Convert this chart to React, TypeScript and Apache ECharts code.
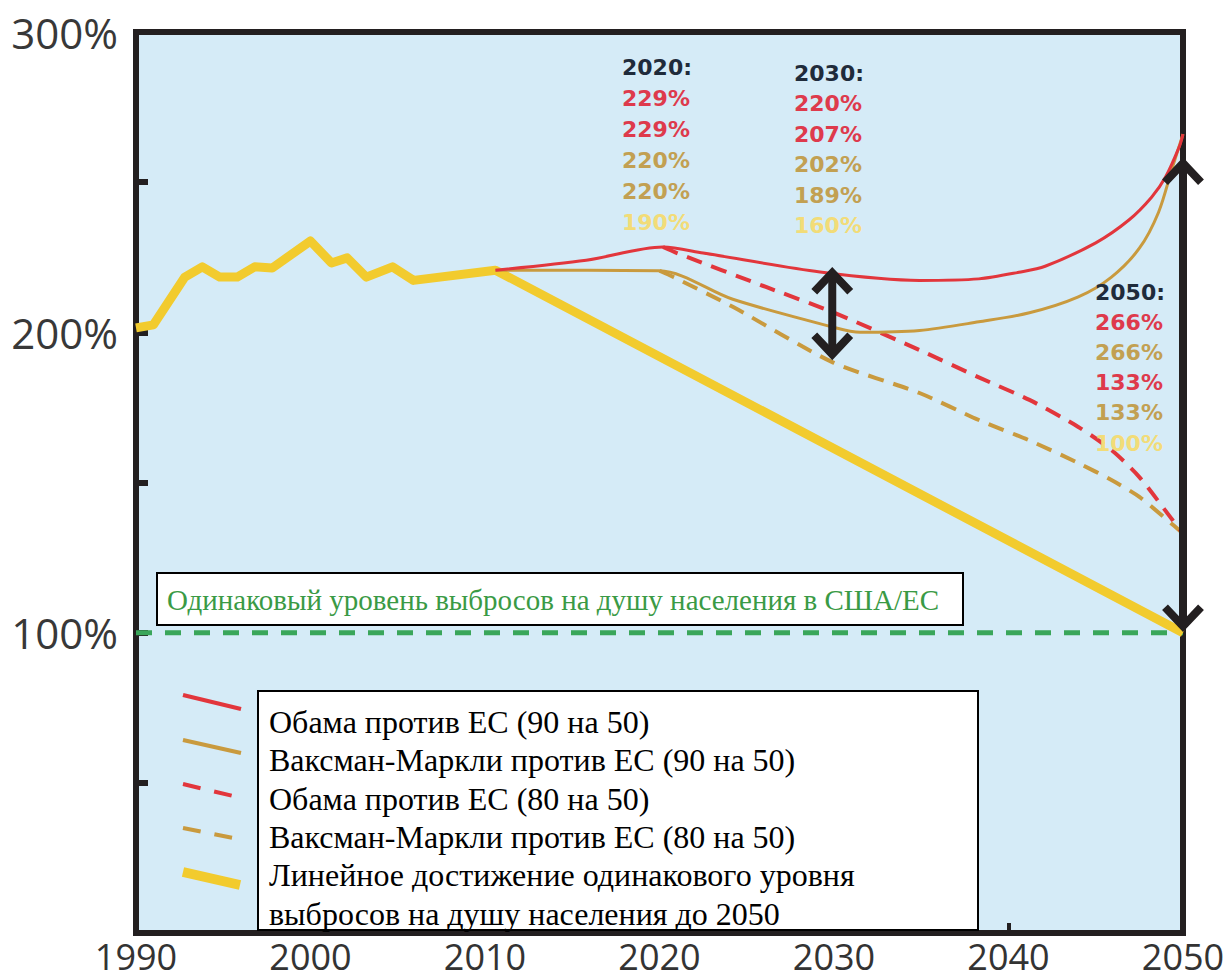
import React, { useEffect, useRef } from "react";
import * as echarts from "echarts";

// ---------- data ----------
const historyYears = [1990, 1991, 1992.8, 1993.8, 1994.8, 1995.8, 1996.8, 1997.8, 2000, 2001.2, 2002.1, 2003.2, 2004.7, 2005.9, 2010.6];
const historyValues = [201.5, 202.5, 218.4, 221.8, 218.4, 218.4, 221.8, 221.4, 230.4, 223.1, 224.8, 218.4, 221.8, 217.3, 220.7];

const linearYears = [2010.6, 2050];
const linearValues = [220.7, 100];

const obama90Years = [2010.6, 2015.8, 2020.2, 2022.5, 2029.2, 2034.9, 2038.3, 2040.6, 2042.1, 2045, 2046.9, 2048.2, 2049, 2049.8, 2050];
const obama90Values = [220.7, 224, 228.4, 226.4, 220.1, 217.3, 217.8, 220, 222, 229.8, 237.4, 245, 251.7, 262, 266];

const waxman90Years = [2010.6, 2020, 2024.2, 2029.9, 2031.5, 2034.9, 2038.3, 2041.2, 2044, 2045.9, 2047.5, 2048.6, 2049.4, 2050];
const waxman90Values = [220.7, 220.5, 211, 201.8, 200, 200.6, 203.5, 206.5, 211.8, 218.4, 228, 240, 255, 266];

const obama80Years = [2020.2, 2021, 2026.1, 2029.9, 2034.9, 2038.3, 2041.2, 2044, 2045.9, 2047.5, 2049.4, 2050];
const obama80Values = [228.4, 226.4, 215.1, 206.8, 194.1, 185, 177.5, 168.5, 160.8, 151.8, 137.5, 133];

const waxman80Years = [2020, 2020.8, 2024.2, 2029.9, 2034.9, 2038.3, 2041.2, 2044, 2045.9, 2047.5, 2049.4, 2050];
const waxman80Values = [220.5, 218.4, 208.5, 190.1, 179.8, 170.8, 164, 156.5, 150.8, 145.2, 136, 133];

const parityYears = [1990, 2050];
const parityValues = [100, 100];

const arrow2030 = { year: 2029.9, from: 220.5, to: 192 };
const arrow2050 = { year: 2050, from: 257, to: 101.5 };

const yLabelValues = [100, 200, 300];

const legendNames = [
  "Обама против ЕС (90 на 50)",
  "Ваксман-Маркли против ЕС (90 на 50)",
  "Обама против ЕС (80 на 50)",
  "Ваксман-Маркли против ЕС (80 на 50)",
  "Линейное достижение одинакового уровня",
  "выбросов на душу населения до 2050",
];
const parityNote = "Одинаковый уровень выбросов на душу населения в США/ЕС";

const block2020 = ["2020:", "229%", "229%", "220%", "220%", "190%"];
const block2030 = ["2030:", "220%", "207%", "202%", "189%", "160%"];
const block2050 = ["2050:", "266%", "266%", "133%", "133%", "100%"];

// ---------- styles ----------
const C_RED = "#e2363c";
const C_GOLD = "#c99a3e";
const C_YELLOW = "#f2cb2e";
const C_GREEN = "#3aa65a";
const C_FRAME = "#231f20";
const T_HEAD = "#1f2b3b";
const T_RED = "#de3a4c";
const T_GOLD = "#c2a052";
const T_YELLOW = "#f2dc78";

const pairs = (xs: number[], ys: number[]) => xs.map((x, i) => [x, ys[i]]);

export default function App() {
  const ref = useRef<HTMLDivElement>(null);

  useEffect(() => {
    document.body.style.margin = "0";
    const chart = echarts.init(ref.current!, null, { renderer: "svg" });

    const line = (name: string, data: number[][], color: string, width: number, dashed?: number[], smooth: number | boolean = false) => ({
      name,
      type: "line",
      data,
      symbol: "none",
      showSymbol: false,
      smooth,
      lineStyle: { color, width, type: dashed ? dashed : "solid", cap: "butt", join: "round" },
      silent: true,
      clip: true,
    });

    chart.setOption({
      animation: false,
      grid: {
        left: 136,
        right: 48,
        top: 32,
        bottom: 47,
        show: true,
        backgroundColor: "#d5ebf7",
        borderColor: C_FRAME,
        borderWidth: 6,
      },
      xAxis: {
        type: "value",
        min: 1990,
        max: 2050,
        interval: 10,
        axisLine: { show: false },
        splitLine: { show: false },
        axisTick: { show: true, inside: true, length: 10, lineStyle: { color: C_FRAME, width: 4 } },
        axisLabel: {
          color: "#333333",
          fontFamily: "Open Sans",
          fontSize: 36,
          lineHeight: 36,
          margin: 5,
          formatter: (v: number) => String(v),
        },
      },
      yAxis: {
        type: "value",
        min: 0,
        max: 300,
        interval: 50,
        axisLine: { show: false },
        splitLine: { show: false },
        axisTick: { show: true, inside: true, length: 12, lineStyle: { color: C_FRAME, width: 6 } },
        axisLabel: {
          color: "#383838",
          fontFamily: "Open Sans",
          fontSize: 42,
          lineHeight: 40,
          margin: 18,
          formatter: (v: number) => (yLabelValues.indexOf(v) >= 0 ? v + "%" : ""),
        },
      },
      series: [
        line("parity", pairs(parityYears, parityValues), C_GREEN, 5, [16, 13]),
        line(legendNames[4], pairs(historyYears, historyValues).concat(pairs(linearYears, linearValues).slice(1)), C_YELLOW, 9),
        line(legendNames[3], pairs(waxman80Years, waxman80Values), C_GOLD, 4, [16, 10], 0.25),
        line(legendNames[2], pairs(obama80Years, obama80Values), C_RED, 4, [16, 10], 0.25),
        line(legendNames[1], pairs(waxman90Years, waxman90Values), C_GOLD, 3, undefined, 0.3),
        line(legendNames[0], pairs(obama90Years, obama90Values), C_RED, 3, undefined, 0.3),
      ],
    });

    const px = (x: number, y: number) => chart.convertToPixel({ xAxisIndex: 0, yAxisIndex: 0 }, [x, y]) as number[];

    const arrowEls = (a: { year: number; from: number; to: number }) => {
      const [x, top] = px(a.year, a.from);
      const [, bot] = px(a.year, a.to);
      const st = { stroke: C_FRAME, lineWidth: 8, fill: null, lineJoin: "miter", lineCap: "butt" };
      return [
        { type: "line", z: 50, shape: { x1: x, y1: top + 4, x2: x, y2: bot - 4 }, style: st },
        { type: "polyline", z: 50, shape: { points: [[x - 18, top + 21], [x, top + 2], [x + 18, top + 21]] }, style: st },
        { type: "polyline", z: 50, shape: { points: [[x - 18, bot - 21], [x, bot - 2], [x + 18, bot - 21]] }, style: st },
      ];
    };

    const blockColors2020 = [T_HEAD, T_RED, T_RED, T_GOLD, T_GOLD, T_YELLOW];
    const blockColors2030 = [T_HEAD, T_RED, T_RED, T_GOLD, T_GOLD, T_YELLOW];
    const blockColors2050 = [T_HEAD, T_RED, T_GOLD, T_RED, T_GOLD, T_YELLOW];

    const block = (lines: string[], colors: string[], x: number, y0: number, dy: number) =>
      lines.map((t, i) => ({
        type: "text",
        z: 60,
        x,
        y: y0 + i * dy,
        style: {
          text: t,
          fill: colors[i],
          fontFamily: "DejaVu Sans",
          fontWeight: "bold",
          fontSize: 22,
          lineHeight: 24,
          verticalAlign: "middle",
          align: "left",
        },
      }));

    const legendSamples = [
      { y1: 695, y2: 709, color: C_RED, w: 4, dash: null as number[] | null, x2: 241 },
      { y1: 740, y2: 753, color: C_GOLD, w: 4, dash: null, x2: 241 },
      { y1: 784, y2: 796, color: C_RED, w: 4, dash: [18, 14], x2: 233 },
      { y1: 828, y2: 838, color: C_GOLD, w: 4, dash: [18, 14], x2: 233 },
      { y1: 872, y2: 885, color: C_YELLOW, w: 10, dash: null, x2: 240 },
    ];

    const serif = '"Liberation Serif", "Times New Roman", serif';

    const graphics: any[] = [
      ...arrowEls(arrow2030),
      ...arrowEls(arrow2050),
      ...block(block2020, blockColors2020, 622, 67, 31),
      ...block(block2030, blockColors2030, 794, 73, 30.5),
      ...block(block2050, blockColors2050, 1095, 292, 30.2),
      {
        type: "rect",
        z: 70,
        shape: { x: 157, y: 573, width: 806, height: 52 },
        style: { fill: "#ffffff", stroke: "#000000", lineWidth: 2 },
      },
      {
        type: "text",
        z: 71,
        x: 167,
        y: 600,
        style: { text: parityNote, fill: "#3a9a45", fontFamily: serif, fontSize: 29, verticalAlign: "middle" },
      },
      {
        type: "rect",
        z: 70,
        shape: { x: 258, y: 691, width: 720, height: 239 },
        style: { fill: "#ffffff", stroke: "#000000", lineWidth: 2 },
      },
      ...legendNames.map((t, i) => ({
        type: "text",
        z: 71,
        x: 269,
        y: 722 + i * 38.3,
        style: { text: t, fill: "#000000", fontFamily: serif, fontSize: 32, lineHeight: 34, verticalAlign: "middle" },
      })),
      ...legendSamples.map((s) => ({
        type: "line",
        z: 72,
        shape: { x1: 183, y1: s.y1, x2: s.x2, y2: s.y2 },
        style: { stroke: s.color, lineWidth: s.w, lineDash: s.dash, lineCap: "butt" },
      })),
    ];

    chart.setOption({ graphic: graphics });

    return () => chart.dispose();
  }, []);

  return <div ref={ref} style={{ width: 1231, height: 980 }} />;
}
